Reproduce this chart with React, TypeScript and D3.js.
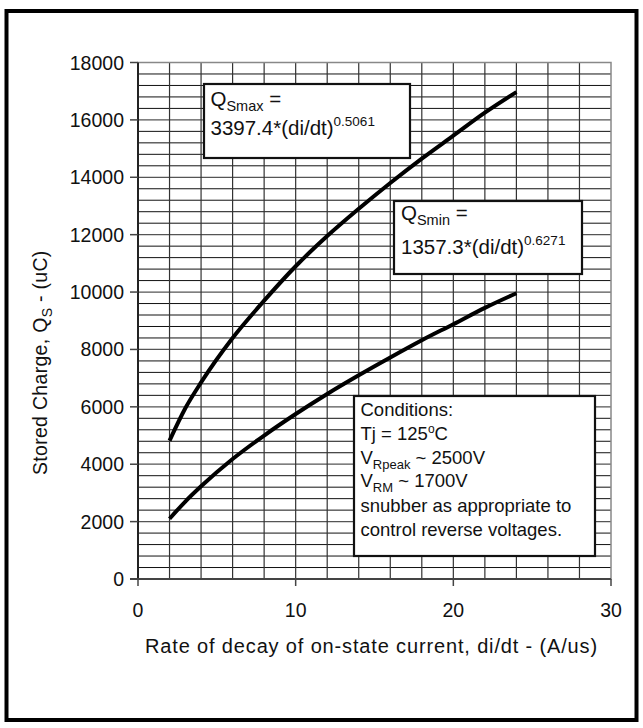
import { useEffect, useRef } from 'react'
import * as d3 from 'd3'

// values
const diDt = [2, 3, 4, 6, 8, 10, 12, 14, 16, 18, 20, 22, 24]
const qsMax = [4820, 5950, 6850, 8400, 9700, 10900, 11950, 12900, 13800, 14650, 15450, 16250, 16970]
const qsMin = [2100, 2700, 3230, 4180, 5000, 5750, 6450, 7100, 7720, 8320, 8880, 9450, 9960]

const xTicks = [0, 10, 20, 30]
const yTicks = [0, 2000, 4000, 6000, 8000, 10000, 12000, 14000, 16000, 18000]

const conditions = ['Conditions:', 'Tj = 125', 'V', 'V', 'snubber as appropriate to', 'control reverse voltages.']

const FONT = '"Liberation Sans", Arial, sans-serif'

export default function App() {
  const svgRef = useRef<SVGSVGElement>(null)

  useEffect(() => {
    if (!svgRef.current) return
    const svg = d3.select(svgRef.current)
    svg.selectAll('*').remove()

    const x = d3.scaleLinear().domain([0, 30]).range([138, 611])
    const y = d3.scaleLinear().domain([0, 18000]).range([579, 62.5])

    svg.append('rect').attr('width', 643).attr('height', 728).attr('fill', '#fff')
    // outer frame
    svg.append('rect').attr('x', 6.5).attr('y', 11).attr('width', 630).attr('height', 709)
      .attr('fill', 'none').attr('stroke', '#000').attr('stroke-width', 4)

    const g = svg.append('g')

    // minor horizontal grid every 400
    const hLines = d3.range(400, 18000, 400)
    g.append('g').selectAll('line').data(hLines).enter().append('line')
      .attr('x1', x(0)).attr('x2', x(30)).attr('y1', d => y(d)).attr('y2', d => y(d))
      .attr('stroke', d => d % 2000 === 0 ? '#555' : '#111').attr('stroke-width', d => d % 2000 === 0 ? 1.3 : 1)

    // vertical grid every 2
    g.append('g').selectAll('line').data(d3.range(2, 30, 2)).enter().append('line')
      .attr('x1', d => x(d)).attr('x2', d => x(d)).attr('y1', y(0)).attr('y2', y(18000))
      .attr('stroke', '#333').attr('stroke-width', 1.2)

    // plot border
    g.append('rect').attr('x', x(0)).attr('y', y(18000)).attr('width', x(30) - x(0)).attr('height', y(0) - y(18000))
      .attr('fill', 'none').attr('stroke', '#888').attr('stroke-width', 1.5)

    // axes
    g.append('line').attr('x1', x(0)).attr('x2', x(0)).attr('y1', y(0) + 1).attr('y2', y(18000))
      .attr('stroke', '#222').attr('stroke-width', 2)
    g.append('line').attr('x1', x(0) - 8).attr('x2', x(30)).attr('y1', y(0)).attr('y2', y(0))
      .attr('stroke', '#444').attr('stroke-width', 2)

    // y ticks
    g.append('g').selectAll('line').data(yTicks).enter().append('line')
      .attr('x1', x(0) - 8).attr('x2', x(0)).attr('y1', d => y(d)).attr('y2', d => y(d))
      .attr('stroke', '#444').attr('stroke-width', 1.5)
    g.append('g').selectAll('text').data(yTicks).enter().append('text')
      .attr('x', 124).attr('y', d => y(d) + 7).attr('text-anchor', 'end')
      .attr('font-family', FONT).attr('font-size', 19.5).attr('fill', '#111').text(d => d)

    // x ticks
    g.append('g').selectAll('line').data(xTicks).enter().append('line')
      .attr('x1', d => x(d)).attr('x2', d => x(d)).attr('y1', y(0)).attr('y2', y(0) + 7)
      .attr('stroke', '#444').attr('stroke-width', 1.5)
    g.append('g').selectAll('text').data(xTicks).enter().append('text')
      .attr('x', d => x(d)).attr('y', 617).attr('text-anchor', 'middle')
      .attr('font-family', FONT).attr('font-size', 19.5).attr('fill', '#111').text(d => d)

    // axis titles
    g.append('text').attr('x', 145).attr('y', 653)
      .attr('font-family', FONT).attr('font-size', 20).attr('letter-spacing', 0.85).attr('fill', '#111')
      .text('Rate of decay of on-state current, di/dt - (A/us)')
    const yt = g.append('text').attr('transform', 'translate(47,475) rotate(-90)')
      .attr('font-family', FONT).attr('font-size', 19.5).attr('letter-spacing', 0.3).attr('fill', '#111')
    yt.append('tspan').text('Stored Charge, Q')
    yt.append('tspan').attr('font-size', 14).attr('dy', 5).text('S')
    yt.append('tspan').attr('dy', -5).text(' - (uC)')

    // curves
    const line = d3.line<[number, number]>().x(d => x(d[0])).y(d => y(d[1])).curve(d3.curveMonotoneX)
    for (const s of [qsMax, qsMin]) {
      g.append('path').datum(diDt.map((v, i) => [v, s[i]] as [number, number]))
        .attr('d', line).attr('fill', 'none').attr('stroke', '#000').attr('stroke-width', 4)
        .attr('stroke-linejoin', 'round')
    }

    // annotation boxes
    const box = (x0: number, y0: number, x1: number, y1: number) =>
      g.append('rect').attr('x', x0).attr('y', y0).attr('width', x1 - x0).attr('height', y1 - y0)
        .attr('fill', '#fff').attr('stroke', '#111').attr('stroke-width', 2.2)

    const eqBox = (x0: number, y0: number, x1: number, y1: number, tx: number, b1: number, b2: number,
      sub: string, coef: string, exp: string) => {
      box(x0, y0, x1, y1)
      const t1 = g.append('text').attr('x', tx).attr('y', b1).attr('font-family', FONT).attr('font-size', 20.5).attr('fill', '#111')
      t1.append('tspan').text('Q')
      t1.append('tspan').attr('font-size', 14.5).attr('dy', 5).text(sub)
      t1.append('tspan').attr('dy', -5).text(' =')
      const t2 = g.append('text').attr('x', tx).attr('y', b2).attr('font-family', FONT).attr('font-size', 20.5).attr('fill', '#111')
      t2.append('tspan').text(`${coef}*(di/dt)`)
      t2.append('tspan').attr('font-size', 13.5).attr('dy', -9).text(exp)
    }
    eqBox(204, 84, 410, 158, 210.5, 106, 135, 'Smax', '3397.4', '0.5061')
    eqBox(394, 201, 582, 274, 401, 220, 254, 'Smin', '1357.3', '0.6271')

    // conditions
    box(354, 396, 595, 556)
    const baselines = [416, 440, 463.5, 487, 511.5, 536]
    conditions.forEach((c, i) => {
      const t = g.append('text').attr('x', 360.5).attr('y', baselines[i])
        .attr('font-family', FONT).attr('font-size', 18.5).attr('fill', '#111')
      t.append('tspan').text(c)
      if (i === 1) {
        t.append('tspan').attr('font-size', 12).attr('dy', -7).text('o')
        t.append('tspan').attr('dy', 7).text('C')
      }
      if (i === 2) {
        t.append('tspan').attr('font-size', 13).attr('dy', 5).text('Rpeak')
        t.append('tspan').attr('dy', -5).text(' ~ 2500V')
      }
      if (i === 3) {
        t.append('tspan').attr('font-size', 13).attr('dy', 5).text('RM')
        t.append('tspan').attr('dy', -5).text(' ~ 1700V')
      }
    })
  }, [])

  return (
    <svg ref={svgRef} width={643} height={728}
      style={{ position: 'absolute', left: 0, top: 0, display: 'block' }} />
  )
}
